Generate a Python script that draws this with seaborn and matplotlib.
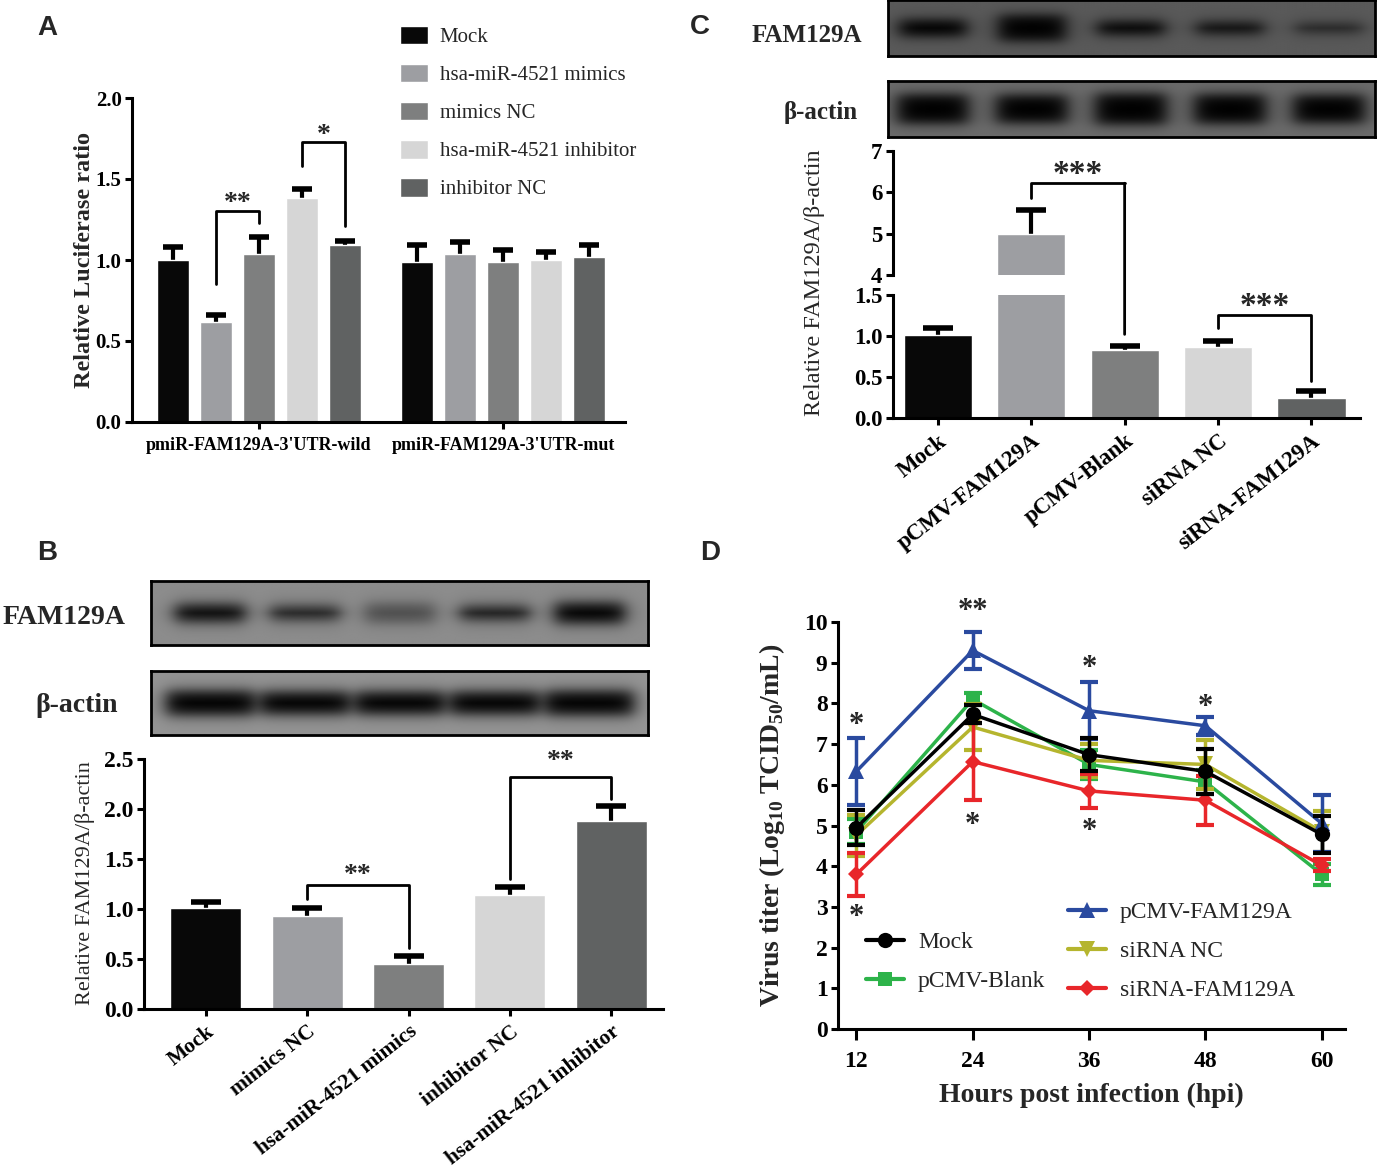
import numpy as np
import pandas as pd
import seaborn as sns
import matplotlib.pyplot as plt
from matplotlib.patches import Patch, ConnectionPatch
from matplotlib.lines import Line2D
from matplotlib.ticker import FormatStrFormatter

W, H = 1377, 1168

# ---------------- data ----------------
# A: dual luciferase
a_groups = ["pmiR-FAM129A-3'UTR-wild", "pmiR-FAM129A-3'UTR-mut"]
a_treat = ["Mock", "hsa-miR-4521 mimics", "mimics NC", "hsa-miR-4521 inhibitor", "inhibitor NC"]
a_wild = [1.00, 0.62, 1.04, 1.38, 1.09]
a_wild_err = [0.08, 0.04, 0.10, 0.06, 0.03]
a_mut = [0.99, 1.04, 0.99, 1.00, 1.02]
a_mut_err = [0.10, 0.07, 0.07, 0.05, 0.07]

# B: western blot quantification
b_cats = ["Mock", "mimics NC", "hsa-miR-4521 mimics", "inhibitor NC", "hsa-miR-4521 inhibitor"]
b_vals = [1.01, 0.93, 0.45, 1.14, 1.88]
b_err = [0.06, 0.08, 0.08, 0.08, 0.15]

# C: western blot quantification (broken axis)
c_cats = ["Mock", "pCMV-FAM129A", "pCMV-Blank", "siRNA NC", "siRNA-FAM129A"]
c_vals = [1.01, 5.00, 0.83, 0.87, 0.25]
c_err = [0.09, 0.58, 0.05, 0.07, 0.08]

# D: virus titer
hours = [12, 24, 36, 48, 60]
d_mock = [4.95, 7.73, 6.74, 6.33, 4.78]
d_mock_err = [0.43, 0.22, 0.40, 0.55, 0.45]
d_blank = [4.85, 8.10, 6.50, 6.07, 3.80]
d_blank_err = [0.30, 0.15, 0.35, 0.30, 0.25]
d_fam = [6.33, 9.30, 7.82, 7.45, 5.05]
d_fam_err = [0.82, 0.45, 0.70, 0.22, 0.70]
d_sinc = [4.76, 7.42, 6.60, 6.50, 4.85]
d_sinc_err = [0.50, 0.57, 0.40, 0.60, 0.50]
d_sifam = [3.80, 6.57, 5.85, 5.62, 4.02]
d_sifam_err = [0.52, 0.94, 0.42, 0.60, 0.15]
d_star_top = ["*", "**", "*", "*"]
d_star_top_y = [7.45, 10.25, 8.85, 7.9]
d_star_bot = ["*", "*", "*"]
d_star_bot_y = [2.75, 5.0, 4.85]

# blot band strengths (relative darkness / thickness)
b_fam_level = [0.95, 0.8, 0.45, 0.85, 1.0]
b_fam_thick = [0.27, 0.21, 0.3, 0.21, 0.32]
b_act_level = [1.0, 1.0, 1.0, 1.0, 1.0]
b_act_thick = [0.38, 0.35, 0.35, 0.35, 0.38]
c_fam_level = [1.0, 1.0, 0.95, 0.85, 0.6]
c_fam_thick = [0.3, 0.46, 0.25, 0.22, 0.18]
c_act_level = [1.0, 1.0, 1.0, 1.0, 1.0]
c_act_thick = [0.52, 0.5, 0.55, 0.52, 0.5]

grays = ["#080808", "#9d9ea2", "#7e7f7f", "#d6d6d6", "#606262"]
d_colors = {"Mock": "#000000", "pCMV-Blank": "#2db34a", "pCMV-FAM129A": "#2a4a9f",
            "siRNA NC": "#b5b52e", "siRNA-FAM129A": "#e8262a"}

# ---------------- style ----------------
sns.set_theme(style="ticks")
plt.rcParams['font.family'] = ['Liberation Serif', 'DejaVu Serif']
plt.rcParams['font.weight'] = 'bold'
plt.rcParams['axes.edgecolor'] = 'black'
plt.rcParams['axes.linewidth'] = 2.2
plt.rcParams['xtick.color'] = 'black'
plt.rcParams['ytick.color'] = 'black'
plt.rcParams['xtick.major.width'] = 2.2
plt.rcParams['ytick.major.width'] = 2.2
plt.rcParams['xtick.major.size'] = 5
plt.rcParams['ytick.major.size'] = 5
plt.rcParams['ytick.major.pad'] = 2.5
plt.rcParams['mathtext.fontset'] = 'custom'
plt.rcParams['mathtext.rm'] = 'Liberation Serif'
plt.rcParams['mathtext.bf'] = 'Liberation Serif:bold'

fig = plt.figure(figsize=(W / 100, H / 100), dpi=100)


def rect(x0, y0, x1, y1):
    return [x0 / W, 1 - y1 / H, (x1 - x0) / W, (y1 - y0) / H]


def ftext(x, y, s, **kw):
    fig.text(x / W, 1 - y / H, s, ha='center', va='center', **kw)


def bracket(ax, x1, x2, y1, y2, top, label, ty, fs):
    ax.plot([x1, x1, x2, x2], [y1, top, top, y2], color='black', lw=2, clip_on=False)
    ax.text((x1 + x2) / 2, ty, label, ha='center', va='center', fontsize=fs, fontweight='bold')


def bar_centers(ax):
    bars = sorted(ax.patches, key=lambda b: b.get_x())
    return [b.get_x() + b.get_width() / 2 for b in bars], [b.get_height() for b in bars]


def up_errorbar(ax, xs, hs, err, capsize):
    # one-sided (upward) error bar, GraphPad style
    eb = ax.errorbar(xs, hs, yerr=[np.zeros(len(xs)), err], fmt='none', ecolor='black',
                     elinewidth=3, capsize=capsize, capthick=4, zorder=0.5)
    eb[1][0].set_visible(False)


def draw_blot(ax, level, thick, bg, xlim, bw):
    xs = np.linspace(xlim[0], xlim[1], 700)
    ys = np.linspace(0, 1, 140)
    X, Y = np.meshgrid(xs, ys)
    img = np.full(X.shape, bg)
    for i, (lv, th) in enumerate(zip(level, thick)):
        px = 1 / (1 + np.exp((np.abs(X - i) - bw / 2) / 0.055))
        py = 1 / (1 + np.exp((np.abs(Y - 0.5) - th / 2) / 0.06))
        img = img - bg * lv * px * py
    ax.imshow(np.clip(img, 0, 1), cmap='gray', vmin=0, vmax=1, aspect='auto',
              extent=(xlim[0], xlim[1], 0, 1), origin='lower', interpolation='bilinear')
    ax.set_xticks([])
    ax.set_yticks([])
    for s in ax.spines.values():
        s.set_visible(True)
        s.set_linewidth(2)


# ---------------- panel A ----------------
axA = fig.add_axes(rect(132, 98, 625, 422))
dfA = pd.DataFrame({"construct": np.repeat(a_groups, 5), "treatment": a_treat * 2,
                    "ratio": a_wild + a_mut})
sns.barplot(data=dfA, x="construct", y="ratio", hue="treatment", order=a_groups,
            hue_order=a_treat, palette=grays, width=0.88, gap=0.25, saturation=1,
            errorbar=None, legend=False, ax=axA)
errA = np.array([a_wild_err, a_mut_err])
bar_conts = list(axA.containers)
for i, cont in enumerate(bar_conts):
    xs = [b.get_x() + b.get_width() / 2 for b in cont]
    hs = [b.get_height() for b in cont]
    up_errorbar(axA, xs, hs, errA[:, i], 7)
axA.set_xlim(-0.52, 1.5)
axA.set_ylim(0, 2.0)
axA.set_yticks([0, 0.5, 1.0, 1.5, 2.0])
axA.yaxis.set_major_formatter(FormatStrFormatter('%.1f'))
axA.set_xlabel("")
axA.set_ylabel("")
axA.tick_params(axis='y', labelsize=15)
axA.tick_params(axis='x', labelsize=13, pad=6)
sns.despine(ax=axA)
xa = [c[0].get_x() + c[0].get_width() / 2 for c in bar_conts]
bracket(axA, xa[1], xa[2], 0.85, 1.23, 1.30, "**", 1.35, 20)
bracket(axA, xa[3], xa[4], 1.58, 1.21, 1.73, "*", 1.77, 20)
axA.legend([Patch(facecolor=c) for c in grays], a_treat, loc='center left',
           bbox_to_anchor=(400 / W, 1 - 112.5 / H), bbox_transform=fig.transFigure,
           frameon=False, prop={'family': 'Liberation Serif', 'weight': 'normal', 'size': 15},
           handlelength=1.35, handleheight=1.0, handletextpad=0.55, labelspacing=0.8,
           borderpad=0, borderaxespad=0)
ftext(84, 260, "Relative Luciferase ratio", rotation=90, fontsize=17.5, fontweight='bold')
ftext(47, 28, "A", fontsize=20, fontweight='bold', family='Liberation Sans')

# ---------------- panel B ----------------
axB1 = fig.add_axes(rect(151, 581, 648, 645))
draw_blot(axB1, b_fam_level, b_fam_thick, 0.55, (-0.62, 4.61), 0.74)
axB2 = fig.add_axes(rect(151, 671, 648, 735))
draw_blot(axB2, b_act_level, b_act_thick, 0.58, (-0.62, 4.61), 0.93)
ftext(64, 617, "FAM129A", fontsize=20, fontweight='bold')
ftext(77, 706, "β-actin", fontsize=20, fontweight='bold')

axB = fig.add_axes(rect(144, 759, 663, 1009))
dfB = pd.DataFrame({"group": b_cats, "value": b_vals})
sns.barplot(data=dfB, x="group", y="value", hue="group", palette=grays, legend=False,
            width=0.70, saturation=1, errorbar=None, ax=axB)
xb, hb = bar_centers(axB)
up_errorbar(axB, xb, hb, b_err, 11)
axB.set_xlim(-0.61, 4.51)
axB.set_ylim(0, 2.5)
axB.set_yticks([0, 0.5, 1.0, 1.5, 2.0, 2.5])
axB.yaxis.set_major_formatter(FormatStrFormatter('%.1f'))
axB.set_xlabel("")
axB.set_ylabel("")
axB.tick_params(axis='y', labelsize=17)
axB.tick_params(axis='x', labelsize=15.5, pad=4)
for lbl in axB.get_xticklabels():
    lbl.set_rotation(38)
    lbl.set_ha('right')
    lbl.set_rotation_mode('anchor')
sns.despine(ax=axB)
bracket(axB, xb[1], xb[2], 1.10, 0.61, 1.24, "**", 1.33, 20)
bracket(axB, xb[3], xb[4], 1.30, 2.10, 2.32, "**", 2.47, 20)
ftext(85, 883, "Relative FAM129A/β-actin", rotation=90, fontsize=16, fontweight='normal')
ftext(47, 553, "B", fontsize=20, fontweight='bold', family='Liberation Sans')

# ---------------- panel C ----------------
axC1 = fig.add_axes(rect(888, 0, 1375, 56))
draw_blot(axC1, c_fam_level, c_fam_thick, 0.35, (-0.45, 4.46), 0.68)
axC2 = fig.add_axes(rect(888, 81, 1375, 137))
draw_blot(axC2, c_act_level, c_act_thick, 0.42, (-0.45, 4.46), 0.72)
ftext(807, 35, "FAM129A", fontsize=18, fontweight='bold')
ftext(821, 112, "β-actin", fontsize=18, fontweight='bold')

dfC = pd.DataFrame({"group": c_cats, "value": c_vals})
axCu = fig.add_axes(rect(893, 151, 1360, 275))
axCl = fig.add_axes(rect(893, 295, 1360, 418))
for ax in (axCu, axCl):
    sns.barplot(data=dfC, x="group", y="value", hue="group", palette=grays, legend=False,
                width=0.73, saturation=1, errorbar=None, ax=ax)
    xc, hc = bar_centers(ax)
    up_errorbar(ax, xc, hc, c_err, 11)
    ax.set_xlim(-0.48, 4.52)
    ax.set_xlabel("")
    ax.set_ylabel("")
    ax.tick_params(axis='y', labelsize=16.5)
axCu.set_ylim(4, 7)
axCu.set_yticks([4, 5, 6, 7])
axCu.set_xticks([])
sns.despine(ax=axCu, bottom=True)
axCl.set_ylim(0, 1.5)
axCl.set_yticks([0, 0.5, 1.0, 1.5])
axCl.yaxis.set_major_formatter(FormatStrFormatter('%.1f'))
sns.despine(ax=axCl)
axCl.tick_params(axis='x', labelsize=16.5, pad=4)
for lbl in axCl.get_xticklabels():
    lbl.set_rotation(38)
    lbl.set_ha('right')
    lbl.set_rotation_mode('anchor')
xc, hc = bar_centers(axCl)
axCu.plot([xc[1], xc[1], xc[2]], [5.87, 6.22, 6.22], color='black', lw=2, clip_on=False)
fig.add_artist(ConnectionPatch(xyA=(xc[2], 6.22), coordsA=axCu.transData,
                               xyB=(xc[2], 1.02), coordsB=axCl.transData, color='black', lw=2))
axCu.text((xc[1] + xc[2]) / 2, 6.42, "***", ha='center', va='center', fontsize=24, fontweight='bold')
bracket(axCl, xc[3], xc[4], 1.10, 0.45, 1.26, "***", 1.36, 24)
ftext(815, 283, "Relative FAM129A/β-actin", rotation=90, fontsize=17.5, fontweight='normal')
ftext(700, 27, "C", fontsize=20, fontweight='bold', family='Liberation Sans')

# ---------------- panel D ----------------
axD = fig.add_axes(rect(838, 622, 1345, 1029))
series = [("pCMV-Blank", d_blank, d_blank_err, 's', 10),
          ("siRNA NC", d_sinc, d_sinc_err, 'v', 11),
          ("siRNA-FAM129A", d_sifam, d_sifam_err, 'D', 8),
          ("pCMV-FAM129A", d_fam, d_fam_err, '^', 11),
          ("Mock", d_mock, d_mock_err, 'o', 11)]
handles = {}
for k, (name, vals, err, mk, ms) in enumerate(series):
    col = d_colors[name]
    axD.errorbar(hours, vals, yerr=err, fmt='none', ecolor=col, elinewidth=2.5,
                 capsize=6.5, capthick=3, zorder=2 + k)
    sns.lineplot(x=hours, y=vals, color=col, marker=mk, markersize=ms, markeredgewidth=0,
                 lw=2.5, ax=axD, zorder=2.5 + k)
    handles[name] = Line2D([], [], color=col, marker=mk, markersize=ms, markeredgewidth=0, lw=3)
axD.set_xlim(10.1, 62.4)
axD.set_ylim(0, 10)
axD.set_xticks(hours)
axD.set_yticks(range(0, 11))
axD.tick_params(axis='both', labelsize=17)
axD.tick_params(axis='x', length=8, pad=8)
sns.despine(ax=axD)
for h, s, y in zip(hours, d_star_top, d_star_top_y):
    axD.text(h, y, s, ha='center', va='center', fontsize=22, fontweight='bold')
for h, s, y in zip(hours, d_star_bot, d_star_bot_y):
    axD.text(h, y, s, ha='center', va='center', fontsize=22, fontweight='bold')
axD.set_xlabel("Hours post infection (hpi)", fontsize=20, fontweight='bold', labelpad=8)
legprops = {'family': 'Liberation Serif', 'weight': 'normal', 'size': 17}
leg1 = axD.legend([handles["Mock"], handles["pCMV-Blank"]], ["Mock", "pCMV-Blank"],
                  loc='center left', bbox_to_anchor=(866 / W, 1 - 962 / H),
                  bbox_transform=fig.transFigure, frameon=False, prop=legprops,
                  handlelength=1.6, handletextpad=0.6, labelspacing=0.75,
                  borderpad=0, borderaxespad=0)
axD.add_artist(leg1)
axD.legend([handles["pCMV-FAM129A"], handles["siRNA NC"], handles["siRNA-FAM129A"]],
           ["pCMV-FAM129A", "siRNA NC", "siRNA-FAM129A"],
           loc='center left', bbox_to_anchor=(1068 / W, 1 - 951.5 / H),
           bbox_transform=fig.transFigure, frameon=False, prop=legprops,
           handlelength=1.6, handletextpad=0.6, labelspacing=0.75,
           borderpad=0, borderaxespad=0)
ftext(772, 825, r"Virus titer (Log$_{\mathbf{10}}$ TCID$_{\mathbf{50}}$/mL)", rotation=90,
      fontsize=20, fontweight='bold')
ftext(710, 553, "D", fontsize=20, fontweight='bold', family='Liberation Sans')

fig.savefig("out.png", dpi=100, facecolor='white')
